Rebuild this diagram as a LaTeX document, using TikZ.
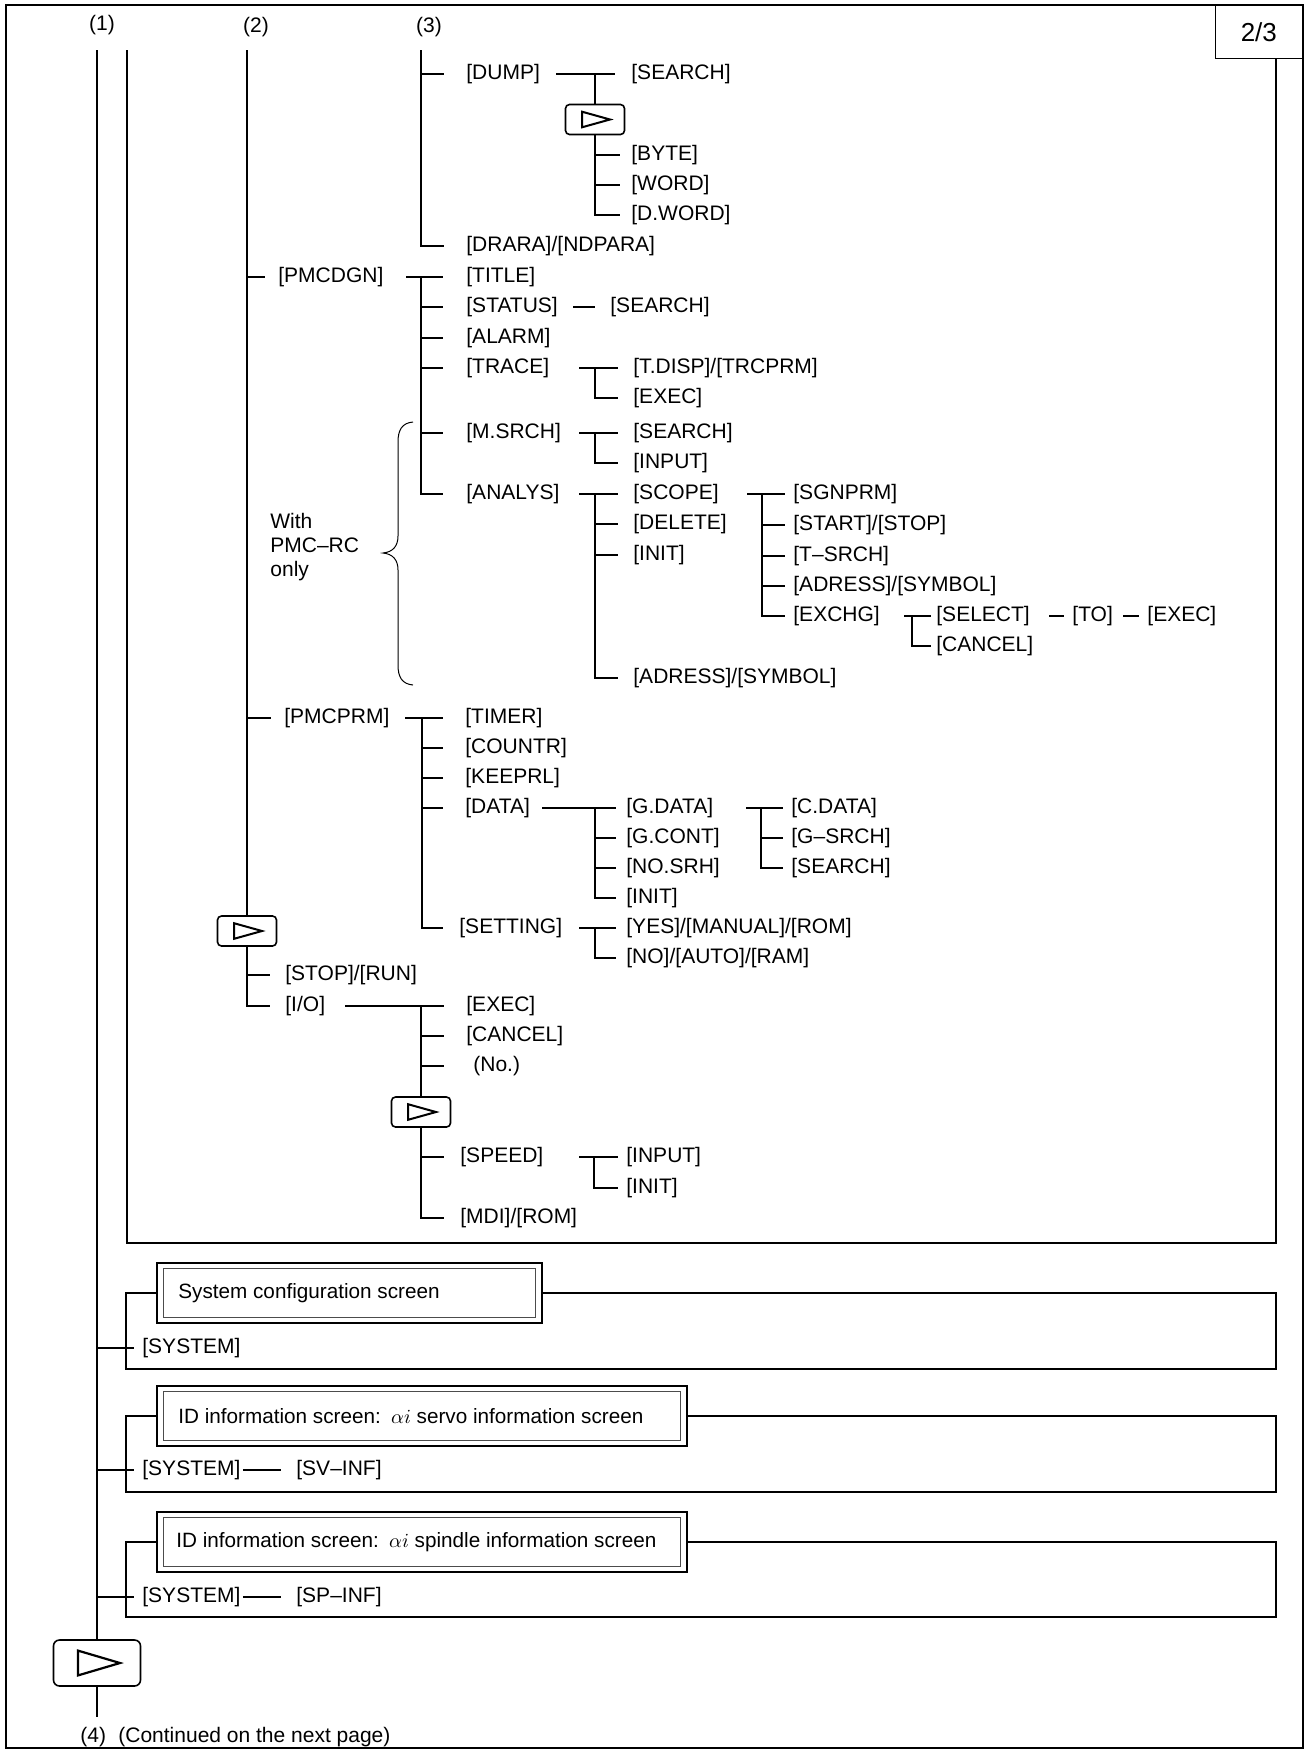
\documentclass[tikz,border=0pt]{standalone}
\usepackage{fontspec}
\setmainfont{Liberation Sans}
\newcommand\fs{\fontsize{10.5}{12}\selectfont}
\begin{document}
\begin{tikzpicture}[x=0.5pt,y=-0.5pt,
  lbl/.style={anchor=west,inner sep=0pt,text height=7.6pt,text depth=2.1pt,font=\fs},
  hd/.style={inner sep=0pt,font=\fs},
  ln/.style={line width=0.85pt},
  fr/.style={line width=0.65pt},
  outer/.style={line width=1.1pt},
  thinl/.style={line width=0.5pt},
  nbs/.style={draw,rounded corners=2pt,line width=0.8pt,minimum width=29.5pt,minimum height=15pt,inner sep=0pt,
    path picture={\draw[line width=1pt,line join=miter,sharp corners]
      ([xshift=-6.5pt,yshift=3.9pt]path picture bounding box.center) --
      ([xshift=7.5pt]path picture bounding box.center) --
      ([xshift=-6.5pt,yshift=-3.9pt]path picture bounding box.center) -- cycle;}},
  nbb/.style={draw,rounded corners=3pt,line width=0.8pt,minimum width=43.5pt,minimum height=23pt,inner sep=0pt,
    path picture={\draw[line width=1.1pt,line join=miter,sharp corners]
      ([xshift=-9.5pt,yshift=6.2pt]path picture bounding box.center) --
      ([xshift=11.5pt]path picture bounding box.center) --
      ([xshift=-9.5pt,yshift=-6.2pt]path picture bounding box.center) -- cycle;}},
  scrbox/.style={draw,line width=1.1pt,minimum height=30pt,inner sep=0pt,anchor=west},
  scrtext/.style={anchor=west,inner sep=0pt,font=\fontsize{10.35}{12}\selectfont},
  inbox/.style={draw=black!70,line width=0.5pt},
  pgbox/.style={draw,line width=0.65pt,minimum width=43.5pt,minimum height=26.5pt,inner sep=0pt,font=\fontsize{13}{15}\selectfont}
]
\useasboundingbox (0,0) rectangle (1307,1751);

% ---------- frames ----------
\draw[outer] (6,5) rectangle (1303,1748);
\node[pgbox,anchor=north east] (pg) at (1303,5) {2/3};
\coordinate (cin) at (127,50);
\coordinate (frBR) at (1276,1243);
\draw[fr] (cin) |- (frBR) -- (frBR |- pg.south);

% ---------- column heads ----------
\node[hd] (h1) at (102,25) {(1)};
\node[hd] (h2) at (256,27) {(2)};
\node[hd] (h3) at (429,27) {(3)};

\coordinate (c1) at (97,50);
\coordinate (c2) at (247,50);
\coordinate (c3) at (421,50);

% ---------- column (3) ----------
\node[lbl] (dump) at (466,74) {[DUMP]};
\node[lbl] (drara) at (466,246) {[DRARA]/[NDPARA]};
\draw[ln] (c3) |- ([xshift=-11pt]drara.west);
\draw[ln] (c3 |- dump.west) -- ([xshift=-11pt]dump.west);

\coordinate (dumpS) at (556,74);
\coordinate (dumpJ) at (595,74);
\node[lbl] (dsearch) at (631,74) {[SEARCH]};
\node[nbs] (nb1) at (595,119.5) {};
\node[lbl] (byte) at (631,155) {[BYTE]};
\node[lbl] (word) at (631,185) {[WORD]};
\node[lbl] (dword) at (631,215) {[D.WORD]};
\draw[ln] (dumpS) -- ([xshift=-8pt]dsearch.west);
\draw[ln] (dumpJ) -- (nb1.north);
\draw[ln] (nb1.south) |- ([xshift=-5.5pt]dword.west);
\foreach \n in {byte,word} \draw[ln] (nb1.south |- \n.west) -- ([xshift=-5.5pt]\n.west);

% ---------- column (2) ----------
\node[lbl] (pmcdgn) at (278,277) {[PMCDGN]};
\node[lbl] (pmcprm) at (284,718) {[PMCPRM]};
\node[nbs] (nb2) at (247,931) {};
\node[lbl] (stoprun) at (285,975) {[STOP]/[RUN]};
\node[lbl] (io) at (285,1006) {[I/O]};
\draw[ln] (c2) -- (nb2.north);
\draw[ln] (c2 |- pmcdgn.west) -- ([xshift=-6.5pt]pmcdgn.west);
\draw[ln] (c2 |- pmcprm.west) -- ([xshift=-6.5pt]pmcprm.west);
\draw[ln] (nb2.south) |- ([xshift=-7.5pt]io.west);
\draw[ln] (nb2.south |- stoprun.west) -- ([xshift=-7.5pt]stoprun.west);

% ---------- PMCDGN ----------
\coordinate (pdS) at (406,277);
\coordinate (pdJ) at (421,277);
\node[lbl] (title) at (466,277) {[TITLE]};
\node[lbl] (status) at (466,307) {[STATUS]};
\node[lbl] (alarm) at (466,338) {[ALARM]};
\node[lbl] (trace) at (466,368) {[TRACE]};
\node[lbl] (msrch) at (466,433) {[M.SRCH]};
\node[lbl] (analys) at (466,494) {[ANALYS]};
\draw[ln] (pdS) -- ([xshift=-11.5pt]title.west);
\draw[ln] (pdJ) |- ([xshift=-11.5pt]analys.west);
\foreach \n in {status,alarm,trace,msrch} \draw[ln] (pdJ |- \n.west) -- ([xshift=-11.5pt]\n.west);

\coordinate (stS) at (573,307);
\node[lbl] (ssearch) at (610,307) {[SEARCH]};
\draw[ln] (stS) -- ([xshift=-7.5pt]ssearch.west);

\coordinate (trS) at (579,368);
\coordinate (trJ) at (595,368);
\node[lbl] (tdisp) at (633,368) {[T.DISP]/[TRCPRM]};
\node[lbl] (texec) at (633,398) {[EXEC]};
\draw[ln] (trS) -- ([xshift=-7.5pt]tdisp.west);
\draw[ln] (trJ) |- ([xshift=-7.5pt]texec.west);

\coordinate (msS) at (579,433);
\coordinate (msJ) at (595,433);
\node[lbl] (msearch) at (633,433) {[SEARCH]};
\node[lbl] (minput) at (633,463) {[INPUT]};
\draw[ln] (msS) -- ([xshift=-7.5pt]msearch.west);
\draw[ln] (msJ) |- ([xshift=-7.5pt]minput.west);

\coordinate (anS) at (579,494);
\coordinate (anJ) at (595,494);
\node[lbl] (scope) at (633,494) {[SCOPE]};
\node[lbl] (delete) at (633,524) {[DELETE]};
\node[lbl] (ainit) at (633,555) {[INIT]};
\node[lbl] (aadr) at (633,678) {[ADRESS]/[SYMBOL]};
\draw[ln] (anS) -- ([xshift=-7.5pt]scope.west);
\draw[ln] (anJ) |- ([xshift=-7.5pt]aadr.west);
\foreach \n in {delete,ainit} \draw[ln] (anJ |- \n.west) -- ([xshift=-7.5pt]\n.west);

\coordinate (scS) at (747,494);
\coordinate (scJ) at (762,494);
\node[lbl] (sgnprm) at (793,494) {[SGNPRM]};
\node[lbl] (startstop) at (793,525) {[START]/[STOP]};
\node[lbl] (tsrch) at (793,556) {[T–SRCH]};
\node[lbl] (sadr) at (793,586) {[ADRESS]/[SYMBOL]};
\node[lbl] (exchg) at (793,616) {[EXCHG]};
\draw[ln] (scS) -- ([xshift=-4pt]sgnprm.west);
\draw[ln] (scJ) |- ([xshift=-4pt]exchg.west);
\foreach \n in {startstop,tsrch,sadr} \draw[ln] (scJ |- \n.west) -- ([xshift=-4pt]\n.west);

\coordinate (exS) at (904,616);
\coordinate (exJ) at (912,616);
\node[lbl] (select) at (936,616) {[SELECT]};
\node[lbl] (ecancel) at (936,646) {[CANCEL]};
\draw[ln] (exS) -- ([xshift=-2.5pt]select.west);
\draw[ln] (exJ) |- ([xshift=-2.5pt]ecancel.west);
\coordinate (d1) at (1049,616);
\coordinate (d2) at (1123,616);
\node[lbl] (to) at (1072,616) {[TO]};
\node[lbl] (eexec) at (1147,616) {[EXEC]};
\draw[ln] (d1) -- ([xshift=-4pt]to.west);
\draw[ln] (d2) -- ([xshift=-4pt]eexec.west);

% brace
\draw[thinl] (413,422) .. controls (402,423) and (398,430) .. (398,442) -- (398,536)
  .. controls (398,546) and (393,552) .. (383,553)
  .. controls (393,554) and (398,560) .. (398,570) -- (398,665)
  .. controls (398,677) and (402,684) .. (413,685);
\node[anchor=west,align=left,inner sep=0pt,font=\fs] (pmcrc) at (270,547) {With\\PMC–RC\\only};

% ---------- PMCPRM ----------
\coordinate (ppS) at (405,718);
\coordinate (ppJ) at (422,718);
\node[lbl] (timer) at (465,718) {[TIMER]};
\node[lbl] (countr) at (465,748) {[COUNTR]};
\node[lbl] (keeprl) at (465,778) {[KEEPRL]};
\node[lbl] (data) at (465,808) {[DATA]};
\node[lbl] (setting) at (459,928) {[SETTING]};
\draw[ln] (ppS) -- ([xshift=-11pt]timer.west);
\draw[ln] (ppJ) |- ([xshift=-8pt]setting.west);
\foreach \n in {countr,keeprl,data} \draw[ln] (ppJ |- \n.west) -- ([xshift=-11pt]\n.west);

\coordinate (daS) at (542,808);
\coordinate (daJ) at (595,808);
\node[lbl] (gdata) at (626,808) {[G.DATA]};
\node[lbl] (gcont) at (626,838) {[G.CONT]};
\node[lbl] (nosrh) at (626,868) {[NO.SRH]};
\node[lbl] (dinit) at (626,898) {[INIT]};
\draw[ln] (daS) -- ([xshift=-5pt]gdata.west);
\draw[ln] (daJ) |- ([xshift=-5pt]dinit.west);
\foreach \n in {gcont,nosrh} \draw[ln] (daJ |- \n.west) -- ([xshift=-5pt]\n.west);

\coordinate (gdS) at (746,808);
\coordinate (gdJ) at (761,808);
\node[lbl] (cdata) at (791,808) {[C.DATA]};
\node[lbl] (gsrch) at (791,838) {[G–SRCH]};
\node[lbl] (gsearch) at (791,868) {[SEARCH]};
\draw[ln] (gdS) -- ([xshift=-4pt]cdata.west);
\draw[ln] (gdJ) |- ([xshift=-4pt]gsearch.west);
\draw[ln] (gdJ |- gsrch.west) -- ([xshift=-4pt]gsrch.west);

\coordinate (seS) at (579,928);
\coordinate (seJ) at (595,928);
\node[lbl] (yes) at (626,928) {[YES]/[MANUAL]/[ROM]};
\node[lbl] (no) at (626,958) {[NO]/[AUTO]/[RAM]};
\draw[ln] (seS) -- ([xshift=-5pt]yes.west);
\draw[ln] (seJ) |- ([xshift=-5pt]no.west);

% ---------- I/O ----------
\coordinate (ioS) at (345,1006);
\coordinate (ioJ) at (421,1006);
\node[lbl] (iexec) at (466,1006) {[EXEC]};
\node[lbl] (icancel) at (466,1036) {[CANCEL]};
\node[lbl] (ino) at (473,1066) {(No.)};
\node[nbs] (nb3) at (421,1112) {};
\node[lbl] (speed) at (460,1157) {[SPEED]};
\node[lbl] (mdi) at (460,1218) {[MDI]/[ROM]};
\draw[ln] (ioS) -- ([xshift=-11pt]iexec.west);
\draw[ln] (ioJ) -- (nb3.north);
\draw[ln] (ioJ |- icancel.west) -- ([xshift=-11pt]icancel.west);
\draw[ln] (ioJ |- ino.west) -- ([xshift=-14.5pt]ino.west);
\draw[ln] (nb3.south) |- ([xshift=-8pt]mdi.west);
\draw[ln] (nb3.south |- speed.west) -- ([xshift=-8pt]speed.west);

\coordinate (spS) at (579,1157);
\coordinate (spJ) at (594,1157);
\node[lbl] (sinput) at (626,1157) {[INPUT]};
\node[lbl] (sinit) at (626,1188) {[INIT]};
\draw[ln] (spS) -- ([xshift=-4pt]sinput.west);
\draw[ln] (spJ) |- ([xshift=-4pt]sinit.west);

% ---------- bottom sections ----------
\node[scrbox,minimum width=192.5pt] (sys1) at (156,1293) {};
\node[scrtext] (sys1t) at (178,1293) {System configuration screen};
\draw[inbox] ([shift={(3.75pt,-3.5pt)}]sys1.north west) rectangle ([shift={(-3.75pt,3.5pt)}]sys1.south east);
\coordinate (s1BL) at (126,1369);
\coordinate (s1BR) at (1276,1369);
\draw[fr] (sys1.west) -| (s1BL) -- (s1BR) |- (sys1.east);
\node[lbl] (sysA) at (142,1348) {[SYSTEM]};
\draw[ln] (c1 |- sysA.west) -- ([xshift=-4pt]sysA.west);

\node[scrbox,minimum width=265pt] (sys2) at (156,1416) {};
\node[scrtext] (sys2t) at (178,1416) {ID information screen:\enspace$\alpha i$ servo information screen};
\draw[inbox] ([shift={(3.75pt,-3.5pt)}]sys2.north west) rectangle ([shift={(-3.75pt,3.5pt)}]sys2.south east);
\coordinate (s2BL) at (126,1492);
\coordinate (s2BR) at (1276,1492);
\draw[fr] (sys2.west) -| (s2BL) -- (s2BR) |- (sys2.east);
\node[lbl] (sysB) at (142,1470) {[SYSTEM]};
\node[lbl] (svinf) at (296,1470) {[SV–INF]};
\draw[ln] (c1 |- sysB.west) -- ([xshift=-4pt]sysB.west);
\draw[ln] ([xshift=1pt]sysB.east) -- ([xshift=-7.5pt]svinf.west);

\node[scrbox,minimum width=265pt] (sys3) at (156,1542) {};
\node[scrtext] (sys3t) at (176,1542) {ID information screen:\enspace$\alpha i$ spindle information screen};
\draw[inbox] ([shift={(3.75pt,-3.5pt)}]sys3.north west) rectangle ([shift={(-3.75pt,3.5pt)}]sys3.south east);
\coordinate (s3BL) at (126,1617);
\coordinate (s3BR) at (1276,1617);
\draw[fr] (sys3.west) -| (s3BL) -- (s3BR) |- (sys3.east);
\node[lbl] (sysC) at (142,1597) {[SYSTEM]};
\node[lbl] (spinf) at (296,1597) {[SP–INF]};
\draw[ln] (c1 |- sysC.west) -- ([xshift=-4pt]sysC.west);
\draw[ln] ([xshift=1pt]sysC.east) -- ([xshift=-7.5pt]spinf.west);

% ---------- column (1) end ----------
\node[nbb] (nb4) at (97,1663) {};
\coordinate (c1end) at (97,1717);
\draw[ln] (c1) -- (nb4.north);
\draw[ln] (nb4.south) -- (c1end);
\node[lbl] (n4) at (80,1737) {(4)};
\node[lbl] (cont) at (118,1737) {(Continued on the next page)};
\end{tikzpicture}
\end{document}
